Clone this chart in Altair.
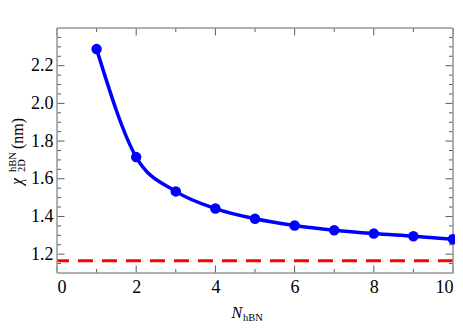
import altair as alt
import pandas as pd

# ---- data ----
n_hbn = [1, 2, 3, 4, 5, 6, 7, 8, 9, 10]
chi_2d = [2.288, 1.715, 1.533, 1.442, 1.388, 1.352, 1.327, 1.309, 1.295, 1.279]
chi_limit = [1.165]

x_ticks_major = [0, 2, 4, 6, 8, 10]
x_ticks_minor = [1, 3, 5, 7, 9]
y_ticks_major = [1.2, 1.4, 1.6, 1.8, 2.0, 2.2]
y_ticks_minor = [1.15, 1.25, 1.3, 1.35, 1.45, 1.5, 1.55, 1.65, 1.7, 1.75,
                 1.85, 1.9, 1.95, 2.05, 2.1, 2.15, 2.25, 2.3, 2.35]

W, H = 396, 245
FONT = "Liberation Serif"
MAJ, MIN = 7.5, 4
TICK_COLOR = "#5a5a5a"
FRAME_COLOR = "#9a9a9a"

xs = alt.Scale(domain=[0, 10], nice=False, zero=False)
ys = alt.Scale(domain=[1.1, 2.4], nice=False, zero=False)

xaxis = alt.Axis(values=x_ticks_major, format="d", domain=False, ticks=False,
                 tickSize=0, grid=False, labelFont=FONT, labelFontSize=18,
                 labelColor="#000000", labelPadding=5, title=None)
yaxis = alt.Axis(values=y_ticks_major, format=".1f", domain=False, ticks=False,
                 tickSize=0, grid=False, labelFont=FONT, labelFontSize=18,
                 labelColor="#000000", labelPadding=4, title=None)

df = pd.DataFrame({"N": n_hbn, "chi": chi_2d})
lim = pd.DataFrame({"chi": chi_limit})

base = alt.Chart(df).encode(
    x=alt.X("N:Q", scale=xs, axis=xaxis),
    y=alt.Y("chi:Q", scale=ys, axis=yaxis),
)
curve = base.mark_line(color="#0000ff", strokeWidth=3.5, interpolate="monotone")
pts = base.mark_point(filled=True, color="#0000ff", size=110, opacity=1)

limit = alt.Chart(lim).mark_rule(color="#ff0000", strokeWidth=3.2,
                                 strokeDash=[15, 9]).encode(
    y=alt.Y("chi:Q", scale=ys, axis=yaxis)
)


def xticks(vals, length, top):
    d = pd.DataFrame({"t": vals})
    if top:
        y0, y1 = 0, length
    else:
        y0, y1 = H, H - length
    return alt.Chart(d).mark_rule(color=TICK_COLOR, strokeWidth=1).encode(
        x=alt.X("t:Q", scale=xs, axis=xaxis),
        y=alt.value(y0), y2=alt.value(y1))


def yticks(vals, length, right):
    d = pd.DataFrame({"t": vals})
    if right:
        x0, x1 = W, W - length
    else:
        x0, x1 = 0, length
    return alt.Chart(d).mark_rule(color=TICK_COLOR, strokeWidth=1).encode(
        y=alt.Y("t:Q", scale=ys, axis=yaxis),
        x=alt.value(x0), x2=alt.value(x1))


ticks = [
    xticks(x_ticks_major, MAJ, False), xticks(x_ticks_minor, MIN, False),
    xticks(x_ticks_major, MAJ, True), xticks(x_ticks_minor, MIN, True),
    yticks(y_ticks_major, MAJ, False), yticks(y_ticks_minor, MIN, False),
    yticks(y_ticks_major, MAJ, True), yticks(y_ticks_minor, MIN, True),
]

one = pd.DataFrame({"a": [0]})


def frame_h(y):
    return alt.Chart(one).mark_rule(color=FRAME_COLOR, strokeWidth=1.5).encode(
        x=alt.value(0), x2=alt.value(W), y=alt.value(y))


def frame_v(x):
    return alt.Chart(one).mark_rule(color=FRAME_COLOR, strokeWidth=1.5).encode(
        y=alt.value(0), y2=alt.value(H), x=alt.value(x))


frame = [frame_h(0), frame_h(H), frame_v(0), frame_v(W)]


def label(text, x, y, size, italic=False, angle=0, align="left"):
    return alt.Chart(one).mark_text(
        text=text, font=FONT, fontSize=size, fontStyle="italic" if italic else "normal",
        angle=angle, align=align, baseline="alphabetic", color="#000000"
    ).encode(x=alt.value(x), y=alt.value(y))


titles = [
    # x title: N_hBN
    label("N", 174.5, 290, 16, italic=True),
    label("hBN", 186, 293, 10.5),
    # y title: chi^hBN_2D (nm), rotated
    label("χ", -35, 157, 16, italic=True, angle=270),
    label("hBN", -41.5, 144, 10.5, angle=270),
    label("2D", -32, 144, 10.5, angle=270),
    label("(nm)", -34, 121, 16, angle=270),
]

chart = alt.layer(limit, *ticks, *frame, curve, pts, *titles).properties(
    width=W, height=H,
    autosize=alt.AutoSizeParams(type="none"),
    padding={"left": 49, "top": 20, "right": 2, "bottom": 49},
).configure_view(strokeWidth=0).configure_axis(
    labelFont=FONT, labelFontSize=18
).configure_text(font=FONT).configure(background="#ffffff")

chart.save("out.html", embed_options={"renderer": "svg", "actions": False})
